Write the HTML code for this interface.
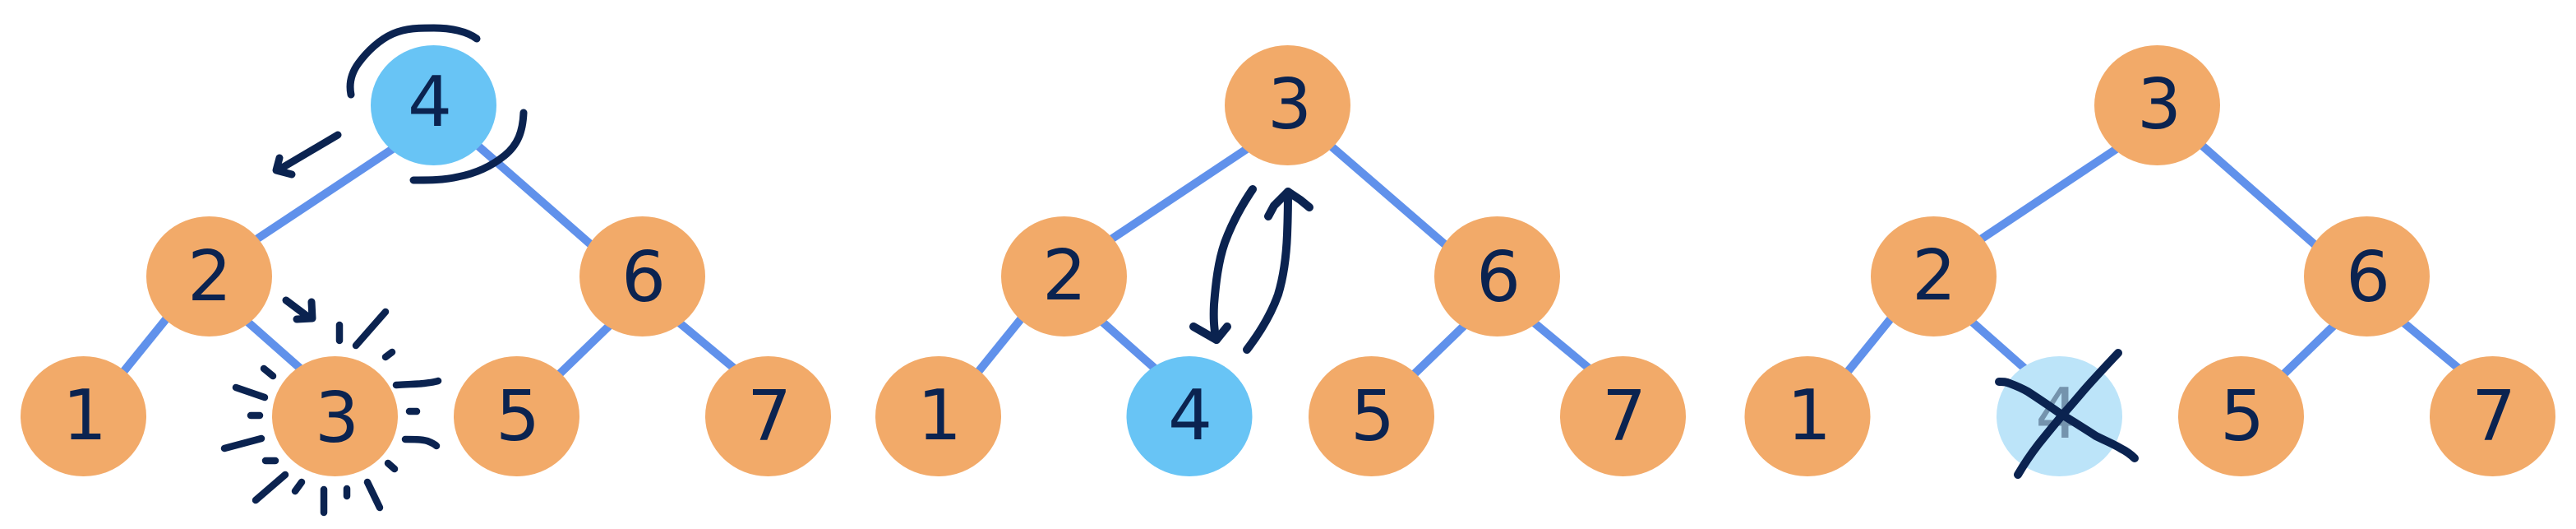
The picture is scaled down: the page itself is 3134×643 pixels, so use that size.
<!DOCTYPE html>
<html>
<head>
<meta charset="utf-8">
<style>
  html, body { margin: 0; padding: 0; background: #ffffff; }
  svg { display: block; }
  .edge { stroke: #6091eb; stroke-width: 10; fill: none; }
  .node { fill: #f2aa69; }
  .blue { fill: #68c4f5; }
  .light { fill: #bce4f9; }
  .lbl { font-family: "DejaVu Sans", "Liberation Sans", sans-serif; font-size: 85px; fill: #0b2350; text-anchor: middle; }
  .ink { stroke: #0b2350; fill: none; stroke-linecap: round; stroke-linejoin: round; }
</style>
</head>
<body>
<svg width="3134" height="643" viewBox="0 0 3134 643" xmlns="http://www.w3.org/2000/svg">

  <!-- ================= TREE 1 ================= -->
  <g>
    <line class="edge" x1="254.5" y1="329" x2="527.5" y2="148"/>
    <line class="edge" x1="527.5" y1="130" x2="781.5" y2="352"/>
    <line class="edge" x1="254.5" y1="323" x2="101.5" y2="512"/>
    <line class="edge" x1="254.5" y1="350" x2="407.5" y2="485"/>
    <line class="edge" x1="781.5" y1="357" x2="628.5" y2="505"/>
    <line class="edge" x1="781.5" y1="355" x2="934.5" y2="482"/>

    <ellipse class="blue" cx="527.5" cy="128" rx="76.5" ry="73"/>
    <ellipse class="node" cx="254.5" cy="336" rx="76.5" ry="73"/>
    <ellipse class="node" cx="781.5" cy="336" rx="76.5" ry="73"/>
    <ellipse class="node" cx="101.5" cy="506" rx="76.5" ry="73"/>
    <ellipse class="node" cx="407.5" cy="506" rx="76.5" ry="73"/>
    <ellipse class="node" cx="628.5" cy="506" rx="76.5" ry="73"/>
    <ellipse class="node" cx="934.5" cy="506" rx="76.5" ry="73"/>

    <text class="lbl" x="523" y="153">4</text>
    <text class="lbl" x="255" y="365">2</text>
    <text class="lbl" x="783" y="366">6</text>
    <text class="lbl" x="103" y="534">1</text>
    <text class="lbl" x="410" y="537">3</text>
    <text class="lbl" x="630" y="535">5</text>
    <text class="lbl" x="936" y="535">7</text>

    <!-- rotation arcs around root -->
    <path class="ink" stroke-width="9" d="M427,115 C424,100 428,88 436,77 C447,62 462,48 478,41 C494,34 510,34 528,34 C548,34 568,38 580,47"/>
    <path class="ink" stroke-width="9" d="M637,137 C636,160 630,176 614,189 C598,202 578,211 557,215 C540,219 522,219 503,219"/>
    <!-- arrow down-left -->
    <polyline class="ink" stroke-width="9" points="411,164 338,207"/>
    <polyline class="ink" stroke-width="9" points="340,192 336,207 355,212"/>
    <!-- small arrow toward 3 -->
    <polyline class="ink" stroke-width="9" points="348,365 376,386"/>
    <polyline class="ink" stroke-width="9" points="379,367 380,387 361,388"/>

    <!-- sparkles around 3 -->
    <g class="ink" stroke-width="8.5">
      <line x1="413" y1="395" x2="413" y2="414"/>
      <line x1="469" y1="379" x2="433" y2="420"/>
      <line x1="477" y1="428" x2="469" y2="434"/>
      <path d="M482,468 C495,467 507,467 516,466 C524,465 530,464 533,463"/>
      <line x1="498" y1="500" x2="507" y2="500"/>
      <path d="M493,534 C503,534 512,534 520,536 C525,538 529,540 531,542"/>
      <line x1="472" y1="563" x2="480" y2="570"/>
      <line x1="447" y1="586" x2="462" y2="617"/>
      <line x1="422" y1="594" x2="422" y2="603"/>
      <line x1="394" y1="595" x2="394" y2="623"/>
      <line x1="367" y1="586" x2="359" y2="597"/>
      <line x1="347" y1="577" x2="311" y2="608"/>
      <line x1="323" y1="560" x2="335" y2="560"/>
      <line x1="318" y1="533" x2="273" y2="545"/>
      <line x1="305" y1="505" x2="316" y2="505"/>
      <line x1="287" y1="471" x2="322" y2="483"/>
      <line x1="321" y1="448" x2="332" y2="457"/>
    </g>
  </g>

  <!-- ================= TREE 2 ================= -->
  <g>
    <line class="edge" x1="1294.5" y1="329" x2="1566.5" y2="148"/>
    <line class="edge" x1="1566.5" y1="132" x2="1821.5" y2="352"/>
    <line class="edge" x1="1294.5" y1="323" x2="1141.5" y2="512"/>
    <line class="edge" x1="1294.5" y1="350" x2="1447" y2="485"/>
    <line class="edge" x1="1821.5" y1="357" x2="1668.5" y2="505"/>
    <line class="edge" x1="1821.5" y1="355" x2="1974.5" y2="482"/>

    <ellipse class="node" cx="1566.5" cy="128" rx="76.5" ry="73"/>
    <ellipse class="node" cx="1294.5" cy="336" rx="76.5" ry="73"/>
    <ellipse class="node" cx="1821.5" cy="336" rx="76.5" ry="73"/>
    <ellipse class="node" cx="1141.5" cy="506" rx="76.5" ry="73"/>
    <ellipse class="blue" cx="1447" cy="506" rx="76.5" ry="73"/>
    <ellipse class="node" cx="1668.5" cy="506" rx="76.5" ry="73"/>
    <ellipse class="node" cx="1974.5" cy="506" rx="76.5" ry="73"/>

    <text class="lbl" x="1569" y="156">3</text>
    <text class="lbl" x="1295" y="364">2</text>
    <text class="lbl" x="1823" y="366">6</text>
    <text class="lbl" x="1143" y="534">1</text>
    <text class="lbl" x="1448" y="534">4</text>
    <text class="lbl" x="1670" y="535">5</text>
    <text class="lbl" x="1976" y="535">7</text>

    <!-- swap arrows -->
    <path class="ink" stroke-width="10" d="M1524,230 C1513,246 1500,268 1490,295 C1482,318 1479,345 1477,370 C1476,390 1477,402 1480,413"/>
    <polyline class="ink" stroke-width="10" points="1452,397 1480,413 1493,397"/>
    <path class="ink" stroke-width="10" d="M1517,425 C1530,408 1545,386 1555,358 C1562,335 1565,310 1566,285 C1567,260 1567,245 1567,233"/>
    <polyline class="ink" stroke-width="10" points="1543,263 1550,250 1567,233 1582,243 1593,252"/>
  </g>

  <!-- ================= TREE 3 ================= -->
  <g>
    <line class="edge" x1="2352.5" y1="329" x2="2624.5" y2="148"/>
    <line class="edge" x1="2624.5" y1="129" x2="2879.5" y2="353"/>
    <line class="edge" x1="2352.5" y1="323" x2="2199" y2="512"/>
    <line class="edge" x1="2352.5" y1="350" x2="2505.5" y2="485"/>
    <line class="edge" x1="2879.5" y1="357" x2="2726.5" y2="505"/>
    <line class="edge" x1="2879.5" y1="355" x2="3032.5" y2="482"/>

    <ellipse class="node" cx="2624.5" cy="128" rx="76.5" ry="73"/>
    <ellipse class="node" cx="2352.5" cy="336" rx="76.5" ry="73"/>
    <ellipse class="node" cx="2879.5" cy="336" rx="76.5" ry="73"/>
    <ellipse class="node" cx="2199" cy="506" rx="76.5" ry="73"/>
    <ellipse class="light" cx="2505.5" cy="506" rx="76.5" ry="73"/>
    <ellipse class="node" cx="2726.5" cy="506" rx="76.5" ry="73"/>
    <ellipse class="node" cx="3032.5" cy="506" rx="76.5" ry="73"/>

    <text class="lbl" x="2627" y="156">3</text>
    <text class="lbl" x="2353" y="364">2</text>
    <text class="lbl" x="2881" y="366">6</text>
    <text class="lbl" x="2201" y="534">1</text>
    <text class="lbl" x="2503" y="532" style="fill:#7493ad">4</text>
    <text class="lbl" x="2728" y="535">5</text>
    <text class="lbl" x="3034" y="535">7</text>

    <!-- X over deleted node -->
    <path class="ink" stroke-width="10" d="M2577,429 C2560,447 2545,463 2533,477 C2522,490 2515,498 2507,507 C2497,519 2488,530 2480,540 C2470,553 2462,565 2455,577"/>
    <path class="ink" stroke-width="10" d="M2432,464 C2437,464 2441,464 2445,466 C2453,469 2460,472 2467,476 C2481,485 2494,494 2507,503 C2522,512 2536,521 2550,530 C2562,536 2572,540 2580,545 C2588,549 2593,553 2597,557"/>
  </g>
</svg>
</body>
</html>
